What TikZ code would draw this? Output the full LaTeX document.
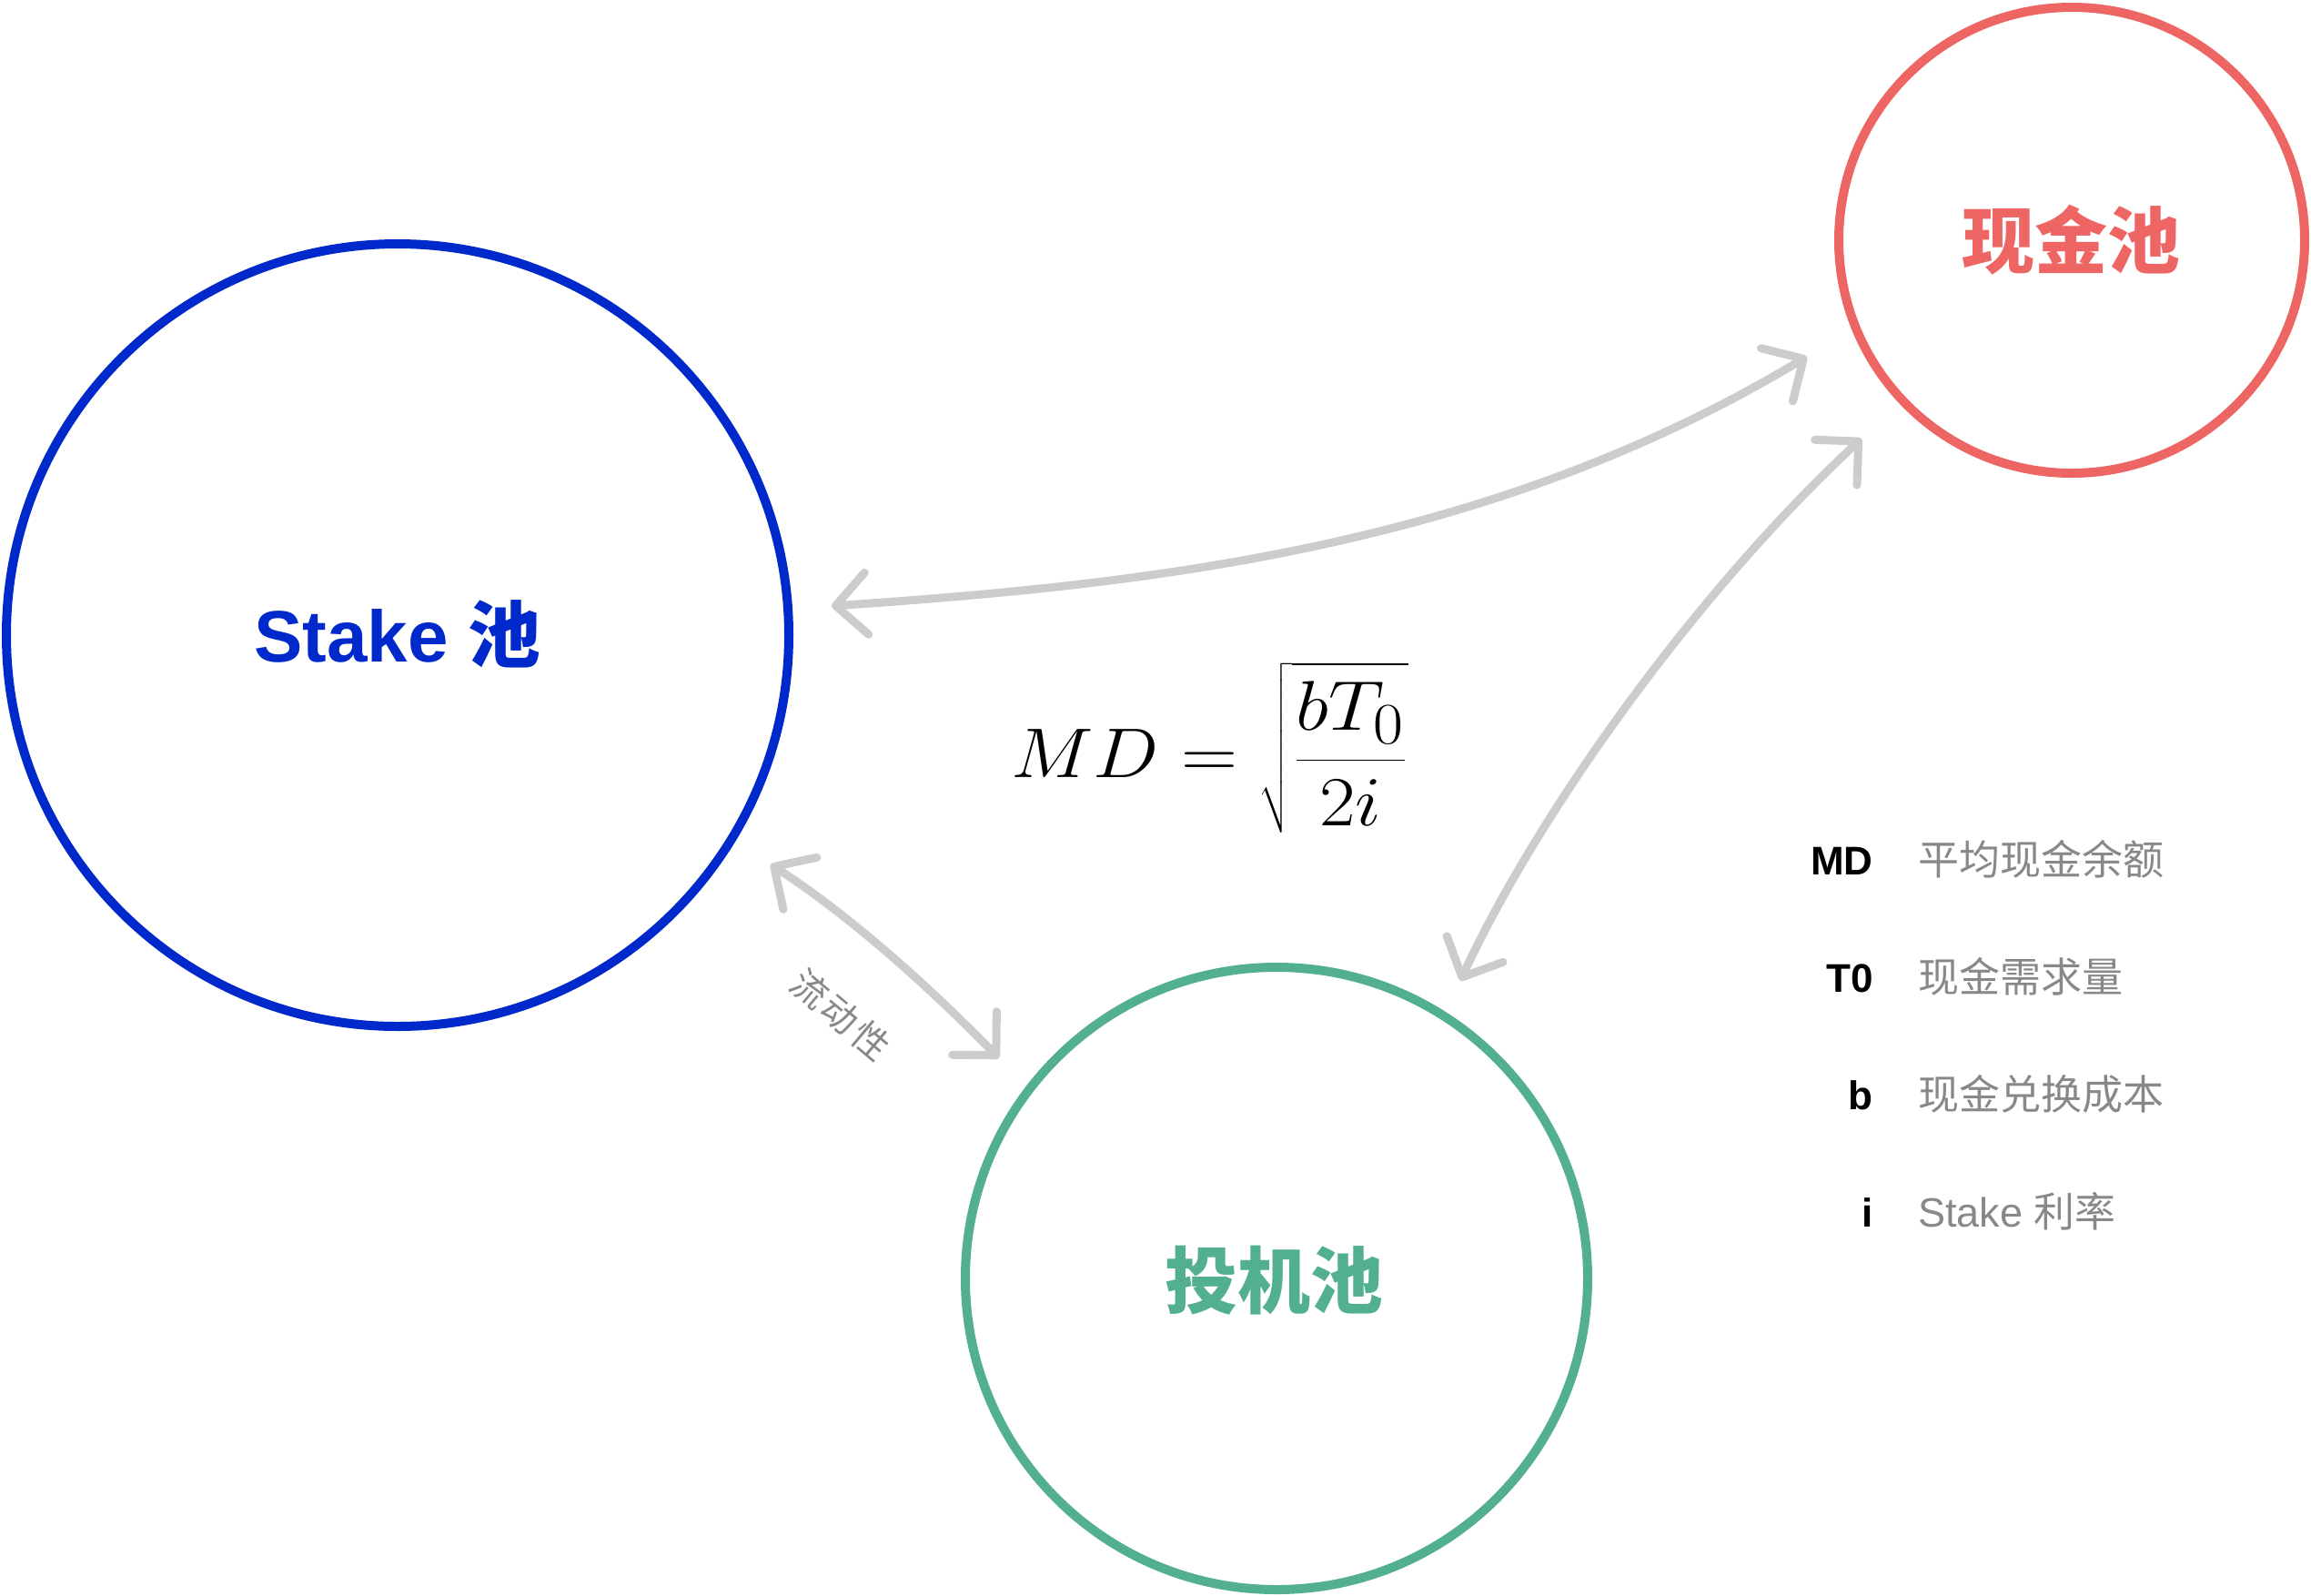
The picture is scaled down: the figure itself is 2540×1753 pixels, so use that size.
\documentclass[tikz,border=0pt]{standalone}
\usepackage{graphicx}
\usepackage[no-math]{fontspec}
\setmainfont{Liberation Sans}
\newfontfamily\cjk{Noto Sans CJK SC}
\usetikzlibrary{arrows.meta}
\definecolor{stakeblue}{HTML}{0029CC}
\definecolor{cashred}{HTML}{ED6663}
\definecolor{specgreen}{HTML}{52B08F}
\definecolor{arrowgray}{HTML}{CCCCCC}
\definecolor{textgray}{HTML}{888888}
\begin{document}
\begin{tikzpicture}[x=0.5pt,y=-0.5pt,
  pool/.style={circle,draw,line width=5pt,minimum size=#1,inner sep=0pt},
  poollabel/.style={anchor=base,inner sep=0pt,font=\fontsize{40}{48}\selectfont\bfseries},
  flow/.style={draw=arrowgray,line width=4.5pt,line cap=round,line join=round,
    >={Straight Barb[length=17pt,width=34pt,round]},<->},
  keytext/.style={anchor=base east,inner sep=0pt,text=black,font=\fontsize{22}{26}\selectfont\bfseries},
  valtext/.style={anchor=base west,inner sep=0pt,text=textgray,font=\fontsize{22.5}{26}\selectfont},
]
\useasboundingbox (0,0) rectangle (2540,1753);

% pools
\node[pool=430pt,draw=stakeblue] (stake) at (437,698) {};
\node[pool=256pt,draw=cashred] (cash) at (2277,264) {};
\node[pool=342pt,draw=specgreen] (spec) at (1403,1405) {};

\node[poollabel,text=stakeblue] (stakelabel) at (437,727) {Stake {\cjk 池}};
\node[poollabel,text=cashred] (cashlabel) at (2276,294) {\cjk 现金池};
\node[poollabel,text=specgreen] (speclabel) at (1400,1437) {\cjk 投机池};

% connectors
\coordinate (a1s) at (914,666);
\coordinate (a1e) at (1986,392);
\draw[flow] (a1s) .. controls (1264,642) and (1636,602) .. (a1e);

\coordinate (a2s) at (2046,482);
\coordinate (a2e) at (1605,1078);
\draw[flow] (a2s) .. controls (1863,652) and (1689,896) .. (a2e);

\coordinate (a3s) at (847,950);
\coordinate (a3e) at (1098,1163);
\draw[flow] (a3s) .. controls (923,999) and (1007,1070) .. (a3e);

\node[rotate=-40,inner sep=0pt,text=textgray,font=\fontsize{20}{24}\selectfont\cjk] (flowlabel) at (924,1115) {流\hspace{2pt}动\hspace{2pt}性};

% formula
\node[inner sep=0pt] (formula) at (1330,822) {\scalebox{1.728}[1.555]{\fontsize{24.88}{30}\selectfont$\displaystyle MD=\sqrt{\frac{bT_0}{2i}}$}};

% legend
\node[keytext] (kMD) at (2059,961) {MD};
\node[keytext] (kT0) at (2059,1090) {T0};
\node[keytext] (kb) at (2059,1219) {b};
\node[keytext] (ki) at (2059,1348) {i};
\node[valtext] (vMD) at (2108,961) {\cjk 平均现金余额};
\node[valtext] (vT0) at (2108,1090) {\cjk 现金需求量};
\node[valtext] (vb) at (2108,1219) {\cjk 现金兑换成本};
\node[valtext] (vi) at (2108,1348) {Stake {\cjk 利率}};
\end{tikzpicture}
\end{document}
